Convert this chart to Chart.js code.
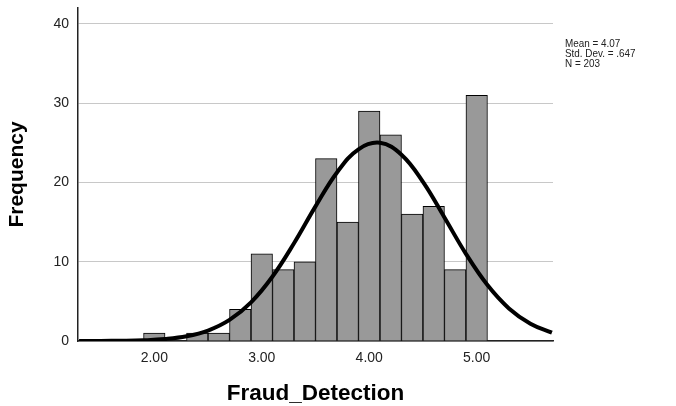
<!DOCTYPE html>
<html>
<head>
<meta charset="utf-8">
<script src="https://cdn.jsdelivr.net/npm/chart.js@4/dist/chart.umd.min.js"></script>
<style>
  html, body { margin: 0; padding: 0; background: #fff; }
  canvas { display: block; }
</style>
</head>
<body>
<canvas id="histChart" width="676" height="406"></canvas>
<script>
// Histogram bins (centre of each 0.2 wide bin) and their counts
const binCenters = [2.0, 2.2, 2.4, 2.6, 2.8, 3.0, 3.2, 3.4, 3.6, 3.8, 4.0, 4.2, 4.4, 4.6, 4.8, 5.0];
const frequencies = [1, 0, 1, 1, 4, 11, 9, 10, 23, 15, 29, 26, 16, 17, 9, 31];

// Normal curve
const curveX = [1.3, 1.5, 1.7, 1.9, 2.1, 2.3, 2.5, 2.7, 2.9, 3.1, 3.3, 3.5, 3.7, 3.9, 4.1, 4.3, 4.5, 4.7, 4.9, 5.1, 5.3, 5.5, 5.7];
const curveY = [0.0, 0.01, 0.03, 0.09, 0.24, 0.59, 1.32, 2.66, 4.88, 8.14, 12.33, 16.98, 21.26, 24.18, 25.0, 23.5, 20.07, 15.58, 10.99, 7.05, 4.11, 2.18, 1.05];

// Axis ticks
const xTicks = [2, 3, 4, 5];
const yTicks = [0, 10, 20, 30, 40];

const statLines = ["Mean = 4.07", "Std. Dev. = .647", "N = 203"];

const fontFamily = "'Liberation Sans', Arial, sans-serif";

// Stats box at the right of the plot (slightly condensed like the original)
const statsPlugin = {
  id: "statsText",
  afterDraw(chart) {
    const ctx = chart.ctx;
    statLines.forEach((line, i) => {
      ctx.save();
      ctx.translate(565, 47 + i * 10);
      ctx.scale(0.86, 1);
      ctx.font = "11.5px " + fontFamily;
      ctx.fillStyle = "#222";
      ctx.textAlign = "left";
      ctx.textBaseline = "alphabetic";
      ctx.fillText(line, 0, 0);
      ctx.restore();
    });
  },
};

new Chart(document.getElementById("histChart"), {
  type: "bar",
  data: {
    datasets: [
      {
        type: "line",
        data: curveX.map((x, i) => ({ x: x, y: curveY[i] })),
        borderColor: "#000",
        borderWidth: 4,
        pointRadius: 0,
        tension: 0.4,
        fill: false,
        order: 0,
      },
      {
        data: binCenters.map((x, i) => ({ x: x, y: frequencies[i] })),
        backgroundColor: "#999999",
        borderColor: "#000",
        borderWidth: 1,
        barPercentage: 1,
        categoryPercentage: 1,
        order: 1,
      },
    ],
  },
  options: {
    responsive: false,
    animation: false,
    layout: { padding: { top: 8, right: 123, bottom: 0, left: 0 } },
    plugins: {
      legend: { display: false },
      tooltip: { enabled: false },
    },
    scales: {
      x: {
        type: "linear",
        offset: false,
        min: 1.29,
        max: 5.71,
        afterBuildTicks: (axis) => {
          axis.ticks = xTicks.map((v) => ({ value: v }));
        },
        afterFit: (scale) => {
          scale.height = 65;
          scale.paddingLeft = 0;
          scale.paddingRight = 0;
        },
        grid: { display: true, color: "rgba(0,0,0,0)", drawTicks: false },
        border: { display: true, color: "#222", width: 1.5 },
        ticks: {
          padding: 9,
          maxRotation: 0,
          color: "#222",
          font: { family: fontFamily, size: 14 },
          callback: (v) => Number(v).toFixed(2),
        },
        title: {
          display: true,
          text: "Fraud_Detection",
          color: "#000",
          padding: { top: 0, bottom: 1 },
          font: { family: fontFamily, size: 22.5, weight: "bold", lineHeight: 1 },
        },
      },
      y: {
        min: 0,
        max: 42,
        afterBuildTicks: (axis) => {
          axis.ticks = yTicks.map((v) => ({ value: v }));
        },
        afterFit: (scale) => {
          scale.width = 78;
          scale.paddingTop = 0;
          scale.paddingBottom = 0;
        },
        grid: { color: "#c8c8c8", lineWidth: 1, drawTicks: false },
        border: { display: true, color: "#222", width: 1.5 },
        ticks: {
          padding: 9,
          color: "#222",
          font: { family: fontFamily, size: 14 },
        },
        title: {
          display: true,
          text: "Frequency",
          color: "#000",
          padding: { top: 7, bottom: 0 },
          font: { family: fontFamily, size: 21, weight: "bold", lineHeight: 1 },
        },
      },
    },
  },
  plugins: [statsPlugin],
});
</script>
</body>
</html>
